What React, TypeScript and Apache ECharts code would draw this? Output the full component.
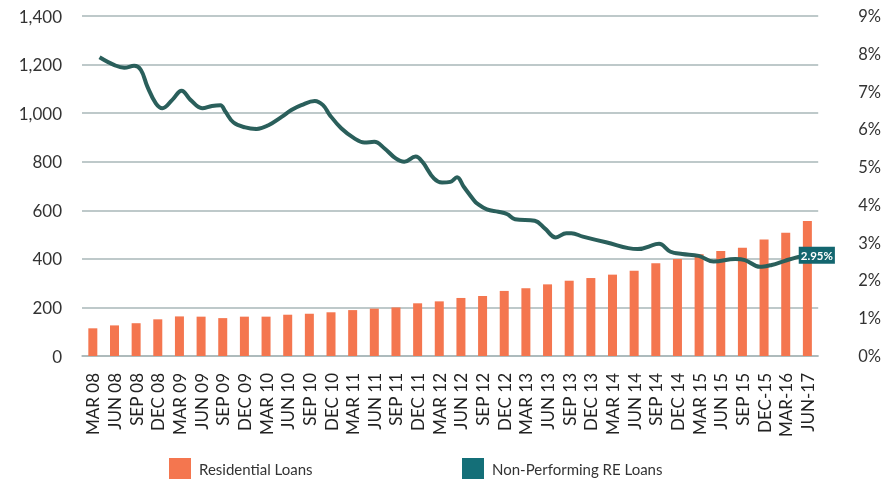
import React, { useEffect, useRef } from "react";
import * as echarts from "echarts";

const categories = [
  "MAR 08", "JUN 08", "SEP 08", "DEC 08", "MAR 09", "JUN 09", "SEP 09", "DEC 09",
  "MAR 10", "JUN 10", "SEP 10", "DEC 10", "MAR 11", "JUN 11", "SEP 11", "DEC 11",
  "MAR 12", "JUN 12", "SEP 12", "DEC 12", "MAR 13", "JUN 13", "SEP 13", "DEC 13",
  "MAR 14", "JUN 14", "SEP 14", "DEC 14", "MAR 15", "JUN 15", "SEP 15", "DEC-15",
  "MAR-16", "JUN-17",
];

const residentialLoans = [
  114, 126, 135, 151, 163, 162, 156, 162, 162, 170,
  174, 180, 189, 195, 200, 217, 225, 239, 247, 268,
  279, 295, 310, 321, 335, 351, 382, 399, 419, 432,
  446, 480, 508, 556,
];

// position along the category axis (index units), NPL ratio in %
const nplPosition = [
  0.31, 1.0, 1.45, 1.91, 2.22, 2.52, 2.91, 3.21, 3.67, 4.1, 4.51, 5.05, 5.5, 5.89,
  6.12, 6.5, 7.04, 7.57, 8.11, 8.72, 9.17, 9.63, 10.25, 10.63, 10.94, 11.47, 12.08,
  12.54, 13.0, 13.46, 13.99, 14.38, 14.91, 15.22, 15.75, 16.13, 16.51, 16.82, 17.13,
  17.59, 17.74, 18.2, 18.73, 19.12, 19.5, 20.41, 20.87, 21.38, 21.87, 22.1, 22.63,
  23.7, 25.16, 26.0, 26.15, 26.68, 27.22, 27.98, 28.67, 29.67, 30.12, 30.81, 31.35,
  31.96, 32.5, 32.97,
];
const nplRatio = [
  7.91, 7.7, 7.63, 7.68, 7.57, 7.13, 6.69, 6.56, 6.78, 7.02, 6.78, 6.56, 6.62, 6.64,
  6.47, 6.18, 6.05, 6.01, 6.11, 6.33, 6.51, 6.64, 6.75, 6.64, 6.38, 6.03, 5.76,
  5.65, 5.67, 5.5, 5.23, 5.14, 5.28, 5.14, 4.7, 4.59, 4.61, 4.73, 4.48,
  4.13, 4.04, 3.88, 3.82, 3.76, 3.62, 3.58, 3.38, 3.14, 3.25, 3.25, 3.16,
  3.01, 2.83, 2.96, 2.97, 2.76, 2.7, 2.65, 2.5, 2.57, 2.54, 2.36, 2.41,
  2.52, 2.61, 2.67,
];
const lastLabel = "2.95%";

const leftTicks = { min: 0, max: 1400, interval: 200 };
const rightTicks = { min: 0, max: 9, interval: 1 };

const FONT = "Lato, 'Open Sans', sans-serif";

export default function App() {
  const ref = useRef<HTMLDivElement>(null);

  useEffect(() => {
    if (!ref.current) return;
    const chart = echarts.init(ref.current, undefined, { renderer: "svg" });
    const lineData = nplPosition.map((x, i) => [x, nplRatio[i]]);
    const legendText = {
      fontSize: 15,
      color: "#333",
      fontFamily: FONT,
      padding: [0, 0, 0, 3],
    };
    chart.setOption({
      animation: false,
      textStyle: { fontFamily: FONT },
      grid: { left: 82, right: 61, top: 16, bottom: 123, containLabel: false },
      legend: [
        {
          left: 164,
          top: 453,
          itemWidth: 22,
          itemHeight: 21,
          icon: "rect",
          textStyle: legendText,
          data: [{ name: "Residential Loans", itemStyle: { color: "#F4764F" } }],
        },
        {
          left: 457,
          top: 453,
          itemWidth: 22,
          itemHeight: 21,
          icon: "rect",
          textStyle: legendText,
          data: [{ name: "Non-Performing RE Loans", itemStyle: { color: "#146F78" } }],
        },
      ],
      xAxis: [
        {
          type: "category",
          data: categories,
          boundaryGap: true,
          axisLine: { show: true, lineStyle: { color: "#A9B7B8", width: 1.5 } },
          axisTick: { show: false },
          axisLabel: {
            rotate: 90,
            interval: 0,
            margin: 17,
            fontSize: 17,
            color: "#222",
            fontFamily: FONT,
          },
        },
        {
          type: "value",
          min: -0.5,
          max: 33.5,
          show: false,
        },
      ],
      yAxis: [
        {
          type: "value",
          ...leftTicks,
          position: "left",
          axisLine: { show: false, onZero: false },
          axisTick: { show: false },
          splitLine: { show: true, lineStyle: { color: "#A9B7B8", width: 1.5 } },
          axisLabel: {
            margin: 20,
            fontSize: 17,
            color: "#333",
            fontFamily: FONT,
            formatter: (v: number) => v.toLocaleString("en-US"),
          },
        },
        {
          type: "value",
          ...rightTicks,
          position: "right",
          axisLine: { show: false, onZero: false },
          axisTick: { show: false },
          splitLine: { show: false },
          axisLabel: {
            margin: 40,
            align: "left",
            fontSize: 16.5,
            color: "#333",
            fontFamily: FONT,
            formatter: "{value}%",
          },
        },
      ],
      series: [
        {
          name: "Residential Loans",
          type: "bar",
          xAxisIndex: 0,
          yAxisIndex: 0,
          data: residentialLoans,
          barWidth: 9,
          itemStyle: { color: "#F4764F" },
          z: 2,
        },
        {
          name: "Non-Performing RE Loans",
          type: "line",
          xAxisIndex: 1,
          yAxisIndex: 1,
          data: lineData,
          smooth: 0.4,
          showSymbol: false,
          symbol: "none",
          lineStyle: { color: "#2A5F5B", width: 4 },
          itemStyle: { color: "#146F78" },
          z: 3,
          endLabel: {
            show: true,
            formatter: () => lastLabel,
            offset: [-16, 0],
            backgroundColor: "#13666F",
            color: "#fff",
            fontWeight: "bold",
            fontSize: 11.5,
            fontFamily: FONT,
            padding: [3, 2, 2, 2],
            borderRadius: 0,
          },
        },
      ],
    });
    return () => chart.dispose();
  }, []);

  return (
    <div
      ref={ref}
      style={{ position: "fixed", left: 0, top: 0, width: 884, height: 479 }}
    />
  );
}
